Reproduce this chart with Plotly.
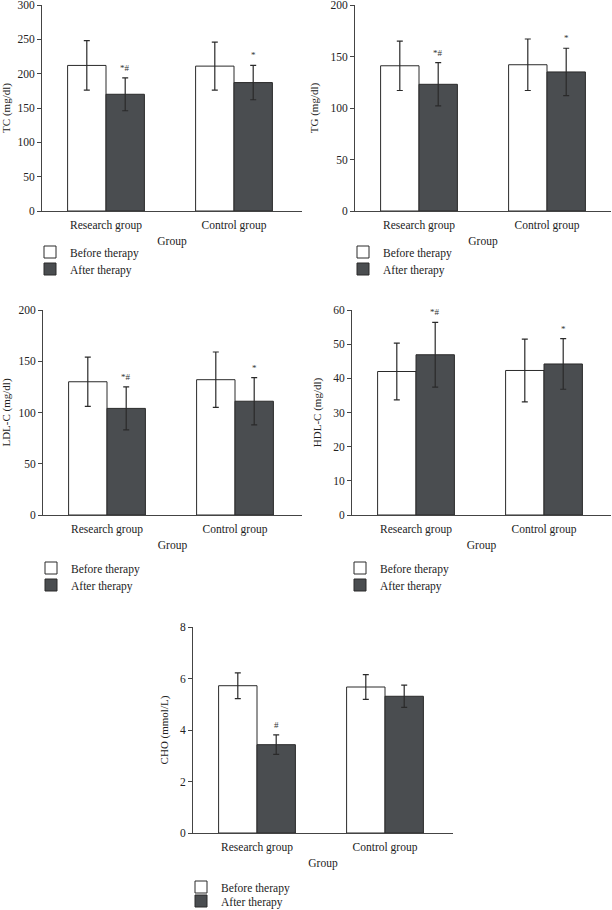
import plotly.graph_objects as go

groups = ["Research group", "Control group"]

tc_before = [212, 211]
tc_before_sd = [36, 35]
tc_after = [170, 187]
tc_after_sd = [24, 25]

tg_before = [141, 142]
tg_before_sd = [24, 25]
tg_after = [123, 135]
tg_after_sd = [21, 23]

ldl_before = [130, 132]
ldl_before_sd = [24, 27]
ldl_after = [104, 111]
ldl_after_sd = [21, 23]

hdl_before = [42.0, 42.3]
hdl_before_sd = [8.3, 9.2]
hdl_after = [46.9, 44.2]
hdl_after_sd = [9.5, 7.4]

cho_before = [5.72, 5.67]
cho_before_sd = [0.5, 0.48]
cho_after = [3.43, 5.31]
cho_after_sd = [0.38, 0.43]

after_marks = {
    "tc": ["*#", "*"],
    "tg": ["*#", "*"],
    "ldl": ["*#", "*"],
    "hdl": ["*#", "*"],
    "cho": ["#", ""],
}

W, H = 612, 910
FONT = "Liberation Serif"
WHITE = "#ffffff"
DARK = "#4a4d50"
EDGE = "#2a2a2a"

# panel: key, y title, y max, tick step, pixel box (left, right, top, bottom),
# legend row centres, data
panels = [
    ("tc", "TC (mg/dl)", 300, 50, 42, 302, 5, 211, (252, 269),
     tc_before, tc_before_sd, tc_after, tc_after_sd),
    ("tg", "TG (mg/dl)", 200, 50, 355, 611, 5, 211, (252, 269),
     tg_before, tg_before_sd, tg_after, tg_after_sd),
    ("ldl", "LDL-C (mg/dl)", 200, 50, 43, 302, 310, 515, (568, 585),
     ldl_before, ldl_before_sd, ldl_after, ldl_after_sd),
    ("hdl", "HDL-C (mg/dl)", 60, 10, 352, 611, 310, 515, (568, 585),
     hdl_before, hdl_before_sd, hdl_after, hdl_after_sd),
    ("cho", "CHO (mmol/L)", 8, 2, 193, 453, 627, 833, (887, 901),
     cho_before, cho_before_sd, cho_after, cho_after_sd),
]

fig = go.Figure()
annotations = []
layout = {}

for i, (key, ytitle, ymax, dtick, x0, x1, yt, yb, rows, bef, bef_sd, aft, aft_sd) in enumerate(panels):
    n = "" if i == 0 else str(i + 1)
    xa, ya = "x" + n, "y" + n
    # one legend per entry so each row can be placed like the original
    leg_a = "legend" + str(2 * i + 2)
    leg_b = "legend" + str(2 * i + 3)
    err = dict(type="data", thickness=1.2, width=3, color=EDGE)
    fig.add_trace(go.Bar(
        x=groups, y=bef, name="Before therapy", xaxis=xa, yaxis=ya, legend=leg_a,
        showlegend=True,
        marker=dict(color=WHITE, line=dict(color=EDGE, width=1)),
        error_y=dict(array=bef_sd, **err),
    ))
    fig.add_trace(go.Bar(
        x=groups, y=aft, name="After therapy", xaxis=xa, yaxis=ya, legend=leg_b,
        showlegend=True,
        marker=dict(color=DARK, line=dict(color=EDGE, width=1)),
        error_y=dict(array=aft_sd, **err),
    ))
    xmax = -0.5 + (x1 - x0) / 128.0
    axis_common = dict(showline=True, linecolor="#444", linewidth=1, showgrid=False,
                       zeroline=False, automargin=False, ticklabeloverflow="allow",
                       tickfont=dict(family=FONT, size=11.5, color="#222"))
    layout["xaxis" + n] = dict(domain=[x0 / W, x1 / W], anchor=ya, range=[-0.5, xmax],
                               ticks="", ticklabelstandoff=3,
                               title=dict(text="Group", standoff=6,
                                          font=dict(family=FONT, size=11.5, color="#222")),
                               **axis_common)
    layout["yaxis" + n] = dict(domain=[1 - yb / H, 1 - yt / H], anchor=xa, range=[0, ymax],
                               dtick=dtick, ticks="outside", ticklen=4, tickcolor="#444",
                               title=dict(text=ytitle, standoff=9,
                                          font=dict(family=FONT, size=11, color="#222")),
                               **axis_common)
    for leg, row in ((leg_a, rows[0]), (leg_b, rows[1])):
        layout[leg] = dict(x=(x0 - 12) / W, xanchor="left", y=1 - row / H, yanchor="middle",
                           font=dict(family=FONT, size=11.5, color="#222"),
                           bgcolor="rgba(0,0,0,0)", itemwidth=30)
    for j, g in enumerate(groups):
        mark = after_marks[key][j]
        if mark:
            annotations.append(dict(
                x=j, y=aft[j] + aft_sd[j], xref=xa, yref=ya, text=mark, showarrow=False,
                xshift=19, yshift=10, font=dict(family=FONT, size=9, color="#333"),
            ))

fig.update_layout(**layout)
fig.update_layout(
    width=W, height=H, showlegend=True,
    margin=dict(l=0, r=0, t=0, b=0, autoexpand=False),
    paper_bgcolor="white", plot_bgcolor="white",
    barmode="group", bargap=0.4, bargroupgap=0,
    annotations=annotations,
)

# drop the page's default body margin so the figure sits at the window corner
fig.write_html("out.html", config={"displayModeBar": False},
               post_script="document.body.style.margin='0';")
